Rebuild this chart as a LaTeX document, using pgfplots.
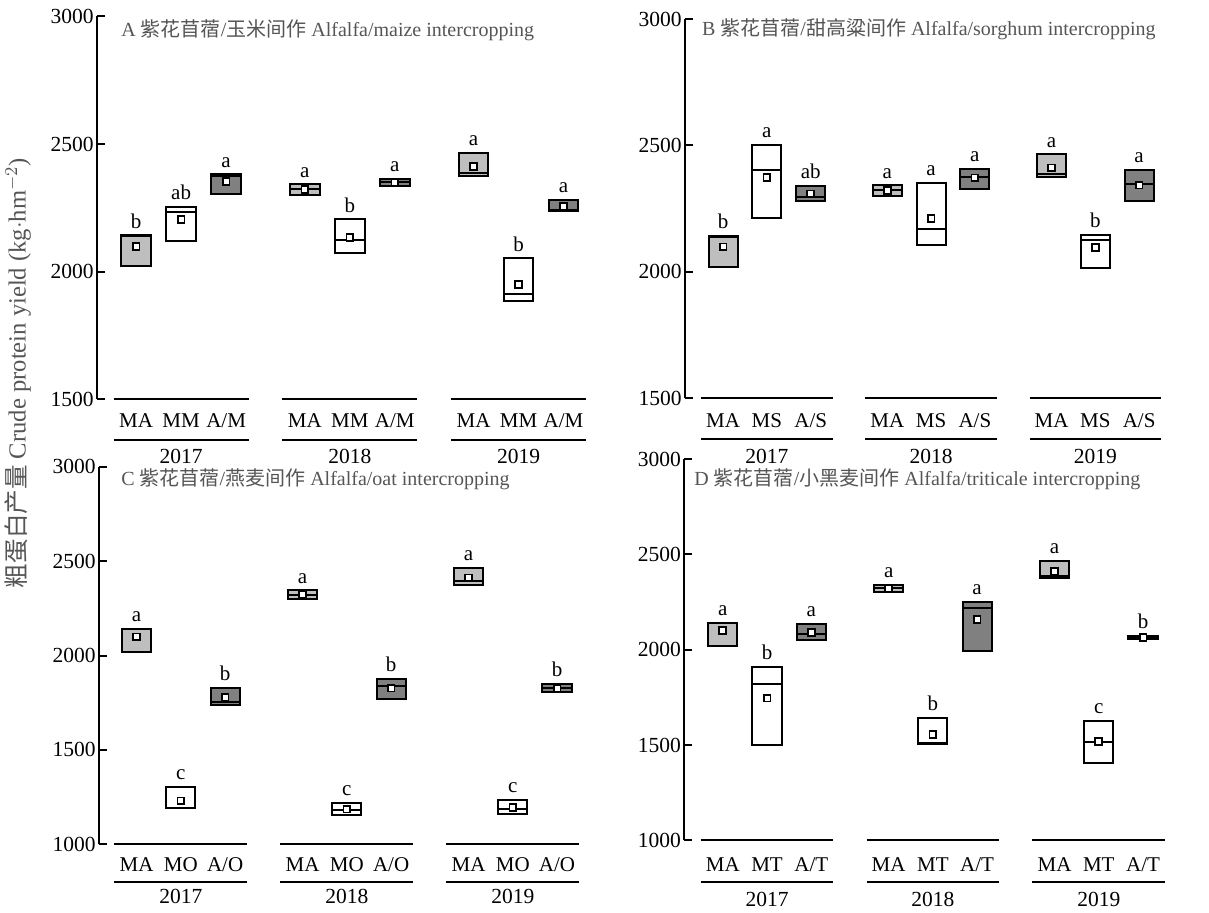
\documentclass[border=0pt]{standalone}
\usepackage{pgfplots}
\pgfplotsset{compat=1.18}
\usepackage{pgfplotstable}
\usepackage{fontspec}
\setmainfont{Liberation Serif}
\newfontfamily\cjk{Noto Sans CJK SC}
\definecolor{lg}{RGB}{190,190,190}
\definecolor{dg}{RGB}{128,128,128}
\definecolor{tg}{RGB}{85,85,85}

% box: position, lower quartile, median, upper quartile, fill
\newcommand{\bx}[5]{%
  \pgfmathsetmacro\xl{#1-0.33}\pgfmathsetmacro\xr{#1+0.33}%
  \edef\tmp{\noexpand\addplot[draw=black, line width=1pt, fill=#5] coordinates {(\xl,#2) (\xr,#2) (\xr,#4) (\xl,#4)} -- cycle;
  \noexpand\addplot[draw=black, line width=1pt] coordinates {(\xl,#3) (\xr,#3)};}%
  \tmp}

% group decorations: ymin, line offset, year offset
\newcommand{\groups}[3]{%
  \draw[line width=1pt] (axis cs:-0.5,#1) -- (axis cs:2.5,#1);
  \draw[line width=1pt] (axis cs:3.25,#1) -- (axis cs:6.25,#1);
  \draw[line width=1pt] (axis cs:7,#1) -- (axis cs:10,#1);
  \draw[line width=1pt] ([yshift=#2]axis cs:-0.5,#1) -- ([yshift=#2]axis cs:2.5,#1);
  \draw[line width=1pt] ([yshift=#2]axis cs:3.25,#1) -- ([yshift=#2]axis cs:6.25,#1);
  \draw[line width=1pt] ([yshift=#2]axis cs:7,#1) -- ([yshift=#2]axis cs:10,#1);
  \node[font=\fontsize{10.75}{12}\selectfont] at ([yshift=#3]axis cs:1,#1) {2017};
  \node[font=\fontsize{10.75}{12}\selectfont] at ([yshift=#3]axis cs:4.75,#1) {2018};
  \node[font=\fontsize{10.75}{12}\selectfont] at ([yshift=#3]axis cs:8.5,#1) {2019};
}

\pgfplotsset{
  panel/.style={
    scale only axis, anchor=south west, clip=false,
    xmax=10,
    axis x line*=bottom, axis y line*=left,
    x axis line style={draw=none},
    y axis line style={line width=1pt, -},
    xtick={0,1,2,3.75,4.75,5.75,7.5,8.5,9.5},
    xtick style={draw=none},
    ytick style={line width=1pt, black},
    tick align=inside, major tick length=4pt,
    yticklabel style={font=\fontsize{10.75}{12}\selectfont, inner sep=1.5pt},
    xticklabel style={font=\fontsize{10.5}{12}\selectfont, anchor=center},
    /pgf/number format/assume math mode=true,
    /pgf/number format/1000 sep={},
    scaled y ticks=false,
    nodes near coords style={font=\fontsize{10.5}{12}\selectfont},
  },
  meanmark/.style={draw=none, mark=square*, mark size=1.7pt, mark options={fill=white, draw=black, line width=0.9pt, solid}},
  letters/.style={draw=none, mark=none, nodes near coords, point meta=explicit symbolic},
}

% x top mean letter
\pgfplotstableread{
x    top  mean l
0    2142 2099 b
1    2252 2203 ab
2    2381 2353 a
3.75 2342 2321 a
4.75 2204 2133 b
5.75 2362 2350 a
7.5  2465 2411 a
8.5  2051 1949 b
9.5  2280 2256 a
}\tA
\pgfplotstableread{
x    top  mean l
0    2142 2099 b
1    2501 2373 a
2    2339 2308 ab
3.75 2342 2321 a
4.75 2353 2211 a
5.75 2407 2372 a
7.5  2465 2411 a
8.5  2145 2096 b
9.5  2402 2343 a
}\tB
\pgfplotstableread{
x    top  mean l
0    2142 2099 a
1    1304 1230 c
2    1830 1777 b
3.75 2342 2321 a
4.75 1221 1187 c
5.75 1875 1827 b
7.5  2465 2411 a
8.5  1235 1196 c
9.5  1848 1827 b
}\tC
\pgfplotstableread{
x    top  mean l
0    2142 2099 a
1    1911 1746 b
2    2134 2091 a
3.75 2342 2321 a
4.75 1643 1554 b
5.75 2249 2157 a
7.5  2465 2411 a
8.5  1627 1517 c
9.5  2073 2064 b
}\tD

\begin{document}
\begin{tikzpicture}
\path[use as bounding box] (0pt,0pt) rectangle (604.5pt,456pt);

% ---------- A ----------
\begin{axis}[panel, at={(48.5pt,256.5pt)}, width=244.5pt, height=191.25pt,
  xmin=-0.87, ymin=1500, ymax=3000, ytick={1500,2000,2500,3000},
  xticklabels={MA,MM,A/M,MA,MM,A/M,MA,MM,A/M},
  xticklabel style={yshift=-10.75pt}]
\bx{0}{2020}{2138}{2142}{lg}
\bx{1}{2119}{2235}{2252}{white}
\bx{2}{2305}{2376}{2381}{dg}
\bx{3.75}{2300}{2325}{2342}{lg}
\bx{4.75}{2073}{2124}{2204}{white}
\bx{5.75}{2336}{2350}{2362}{dg}
\bx{7.5}{2375}{2388}{2465}{lg}
\bx{8.5}{1884}{1913}{2051}{white}
\bx{9.5}{2236}{2240}{2280}{dg}
\addplot[meanmark] table[x=x,y=mean] {\tA};
\addplot[letters] table[x=x,y=top,meta=l] {\tA};
\groups{1500}{-20.25pt}{-28.5pt}
\node[anchor=west, text=tg, font=\fontsize{10}{12}\selectfont, inner sep=0pt] at ([xshift=12pt,yshift=-6.75pt]rel axis cs:0,1) {A {\cjk 紫花苜蓿}/{\cjk 玉米间作} Alfalfa/maize intercropping};
\end{axis}

% ---------- B ----------
\begin{axis}[panel, at={(342.5pt,256.85pt)}, width=238pt, height=189.65pt,
  xmin=-0.87, ymin=1500, ymax=3000, ytick={1500,2000,2500,3000},
  xticklabels={MA,MS,A/S,MA,MS,A/S,MA,MS,A/S},
  xticklabel style={yshift=-11.25pt}]
\bx{0}{2020}{2138}{2142}{lg}
\bx{1}{2215}{2403}{2501}{white}
\bx{2}{2279}{2298}{2339}{dg}
\bx{3.75}{2300}{2325}{2342}{lg}
\bx{4.75}{2108}{2169}{2353}{white}
\bx{5.75}{2329}{2377}{2407}{dg}
\bx{7.5}{2375}{2388}{2465}{lg}
\bx{8.5}{2016}{2128}{2145}{white}
\bx{9.5}{2281}{2349}{2402}{dg}
\addplot[meanmark] table[x=x,y=mean] {\tB};
\addplot[letters] table[x=x,y=top,meta=l] {\tB};
\groups{1500}{-20.5pt}{-29pt}
\node[anchor=west, text=tg, font=\fontsize{10}{12}\selectfont, inner sep=0pt] at ([xshift=8.35pt,yshift=-5pt]rel axis cs:0,1) {B {\cjk 紫花苜蓿}/{\cjk 甜高粱间作} Alfalfa/sorghum intercropping};
\end{axis}

% ---------- C ----------
\begin{axis}[panel, at={(49.5pt,33.85pt)}, width=240.1pt, height=188.8pt,
  xmin=-0.85, ymin=1000, ymax=3000, ytick={1000,1500,2000,2500,3000},
  xticklabels={MA,MO,A/O,MA,MO,A/O,MA,MO,A/O},
  xticklabel style={yshift=-10.1pt}]
\bx{0}{2020}{2138}{2142}{lg}
\bx{1}{1191}{1193}{1304}{white}
\bx{2}{1737}{1756}{1830}{dg}
\bx{3.75}{2300}{2323}{2345}{lg}
\bx{4.75}{1154}{1182}{1221}{white}
\bx{5.75}{1772}{1836}{1875}{dg}
\bx{7.5}{2375}{2392}{2466}{lg}
\bx{8.5}{1161}{1189}{1235}{white}
\bx{9.5}{1806}{1827}{1848}{dg}
\addplot[meanmark] table[x=x,y=mean] {\tC};
\addplot[letters] table[x=x,y=top,meta=l] {\tC};
\groups{1000}{-18.7pt}{-26.2pt}
\node[anchor=west, text=tg, font=\fontsize{10}{12}\selectfont, inner sep=0pt] at ([xshift=11pt,yshift=-6.2pt]rel axis cs:0,1) {C {\cjk 紫花苜蓿}/{\cjk 燕麦间作} Alfalfa/oat intercropping};
\end{axis}

% ---------- D ----------
\begin{axis}[panel, at={(342.15pt,35.85pt)}, width=240.4pt, height=190.65pt,
  xmin=-0.87, ymin=1000, ymax=3000, ytick={1000,1500,2000,2500,3000},
  xticklabels={MA,MT,A/T,MA,MT,A/T,MA,MT,A/T},
  xticklabel style={yshift=-12.1pt}]
\bx{0}{2020}{2138}{2142}{lg}
\bx{1}{1500}{1822}{1911}{white}
\bx{2}{2049}{2082}{2134}{dg}
\bx{3.75}{2300}{2322}{2341}{lg}
\bx{4.75}{1507}{1512}{1643}{white}
\bx{5.75}{1995}{2219}{2249}{dg}
\bx{7.5}{2375}{2388}{2465}{lg}
\bx{8.5}{1406}{1517}{1627}{white}
\bx{9.5}{2054}{2063}{2073}{dg}
\addplot[meanmark] table[x=x,y=mean] {\tD};
\addplot[letters] table[x=x,y=top,meta=l] {\tD};
\groups{1000}{-20.85pt}{-29.35pt}
\node[anchor=west, text=tg, font=\fontsize{10}{12}\selectfont, inner sep=0pt] at ([xshift=4.85pt,yshift=-10pt]rel axis cs:0,1) {D {\cjk 紫花苜蓿}/{\cjk 小黑麦间作} Alfalfa/triticale intercropping};
\end{axis}

\node[rotate=90, text=tg, font=\fontsize{12.3}{14}\selectfont] at (9pt,269.5pt) {{\cjk 粗蛋白产量} Crude protein yield (kg$\cdot$hm$^{-2}$)};
\end{tikzpicture}
\end{document}
